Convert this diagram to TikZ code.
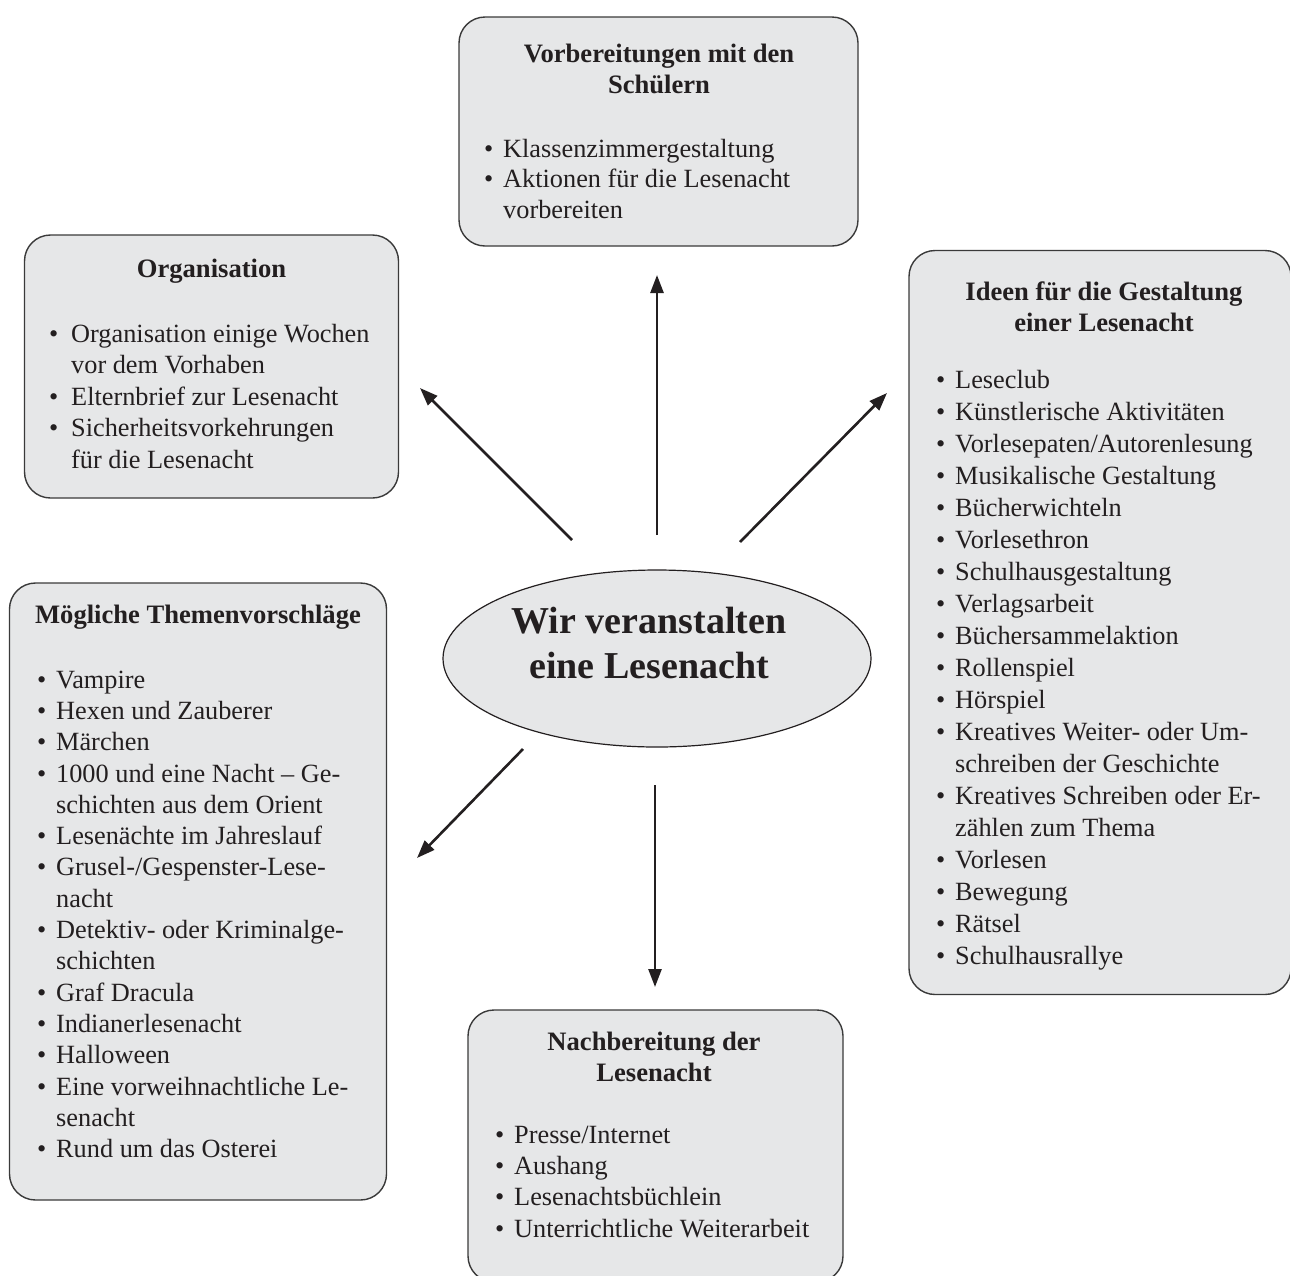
\documentclass[tikz,border=0pt]{standalone}
\usepackage{fontspec}
\setmainfont{Liberation Serif}
\usetikzlibrary{arrows.meta,shapes.geometric}
\definecolor{boxfill}{HTML}{E6E7E8}
\definecolor{ink}{HTML}{231F20}
\definecolor{edge}{HTML}{3A3A3A}

\newcommand{\bl}{\makebox[19pt][l]{•}}
\newcommand{\ind}{\hspace*{19pt}}
\newcommand{\ttltext}[1]{\parbox[t]{380pt}{\centering\fontsize{26.6}{31}\selectfont\bfseries #1}}
\newcommand{\lsttext}[2]{\parbox[t]{400pt}{\raggedright\fontsize{26.3}{#1}\selectfont #2}}

\tikzset{
 box/.style={draw=edge, line width=1.4pt, fill=boxfill, rounded corners=26pt, inner sep=0pt, rectangle},
 ttl/.style={anchor=base, inner sep=0pt, text=ink},
 lst/.style={anchor=base west, inner sep=0pt, text=ink},
 arr/.style={line width=2.6pt, draw=ink, -{Triangle[length=18pt,width=13pt]}},
}

\begin{document}
\begin{tikzpicture}[x=1pt,y=-1pt]
\useasboundingbox (0,0) rectangle (1290,1275);
\clip (0,0) rectangle (1290,1275);

% boxes
\node[box, minimum width=399pt, minimum height=229pt] (top) at (658.5,131.5) {};
\node[box, minimum width=374pt, minimum height=263pt] (org) at (211.5,366.5) {};
\node[box, minimum width=382pt, minimum height=744pt] (ideen) at (1100,622.5) {};
\node[box, minimum width=377pt, minimum height=617pt] (themen) at (198,891.5) {};
\node[box, minimum width=375pt, minimum height=272pt] (nach) at (655.5,1146) {};

% center ellipse
\node[ellipse, draw=ink, line width=1.2pt, fill=boxfill, minimum width=428pt, minimum height=177pt, inner sep=0pt] (center) at (657,658.5) {};
\node[ttl] (centertext) at (649,633) {\parbox[t]{400pt}{\centering\fontsize{38}{45}\selectfont\bfseries Wir veranstalten\\eine Lesenacht}};

% top box
\node[ttl] (toptitle) at (659,62) {\ttltext{Vorbereitungen mit den\\Schülern}};
\node[lst] (toplist) at (484,157) {\lsttext{30.5}{\bl Klassenzimmergestaltung\\
\bl Aktionen für die Lesenacht\\
\ind vorbereiten}};

% organisation
\node[ttl] (orgtitle) at (211.5,277) {\ttltext{Organisation}};
\node[lst] (orglist) at (49,342) {\lsttext{31.5}{\makebox[22pt][l]{•}Organisation einige Wochen\\
\hspace*{22pt}vor dem Vorhaben\\
\makebox[22pt][l]{•}Elternbrief zur Lesenacht\\
\makebox[22pt][l]{•}Sicherheitsvorkehrungen\\
\hspace*{22pt}für die Lesenacht}};

% ideen
\node[ttl] (ideentitle) at (1104,300) {\ttltext{Ideen für die Gestaltung\\einer Lesenacht}};
\node[lst] (ideenlist) at (936,388) {\lsttext{32}{\bl Leseclub\\
\bl Künstlerische Aktivitäten\\
\bl Vorlesepaten/Autorenlesung\\
\bl Musikalische Gestaltung\\
\bl Bücherwichteln\\
\bl Vorlesethron\\
\bl Schulhausgestaltung\\
\bl Verlagsarbeit\\
\bl Büchersammelaktion\\
\bl Rollenspiel\\
\bl Hörspiel\\
\bl Kreatives Weiter- oder Um-\\
\ind schreiben der Geschichte\\
\bl Kreatives Schreiben oder Er-\\
\ind zählen zum Thema\\
\bl Vorlesen\\
\bl Bewegung\\
\bl Rätsel\\
\bl Schulhausrallye}};

% themen
\node[ttl] (thementitle) at (198,623) {\ttltext{Mögliche Themenvorschläge}};
\node[lst] (themenlist) at (37,688) {\lsttext{31.33}{\bl Vampire\\
\bl Hexen und Zauberer\\
\bl Märchen\\
\bl 1000 und eine Nacht – Ge-\\
\ind schichten aus dem Orient\\
\bl Lesenächte im Jahreslauf\\
\bl Grusel-/Gespenster-Lese-\\
\ind nacht\\
\bl Detektiv- oder Kriminalge-\\
\ind schichten\\
\bl Graf Dracula\\
\bl Indianerlesenacht\\
\bl Halloween\\
\bl Eine vorweihnachtliche Le-\\
\ind senacht\\
\bl Rund um das Osterei}};

% nachbereitung
\node[ttl] (nachtitle) at (654,1050) {\ttltext{Nachbereitung der\\Lesenacht}};
\node[lst] (nachlist) at (495,1143) {\lsttext{31.33}{\bl Presse/Internet\\
\bl Aushang\\
\bl Lesenachtsbüchlein\\
\bl Unterrichtliche Weiterarbeit}};

% arrows
\coordinate (aUs) at (657,535);
\coordinate (aUe) at (657,275);
\coordinate (aULs) at (572,540);
\coordinate (aULe) at (420,388);
\coordinate (aURs) at (740,542);
\coordinate (aURe) at (887,393);
\coordinate (aDLs) at (523,749);
\coordinate (aDLe) at (417,858);
\coordinate (aDs) at (655,785);
\coordinate (aDe) at (655,987);
\draw[arr] (aUs) -- (aUe);
\draw[arr] (aULs) -- (aULe);
\draw[arr] (aURs) -- (aURe);
\draw[arr] (aDLs) -- (aDLe);
\draw[arr] (aDs) -- (aDe);
\end{tikzpicture}
\end{document}
